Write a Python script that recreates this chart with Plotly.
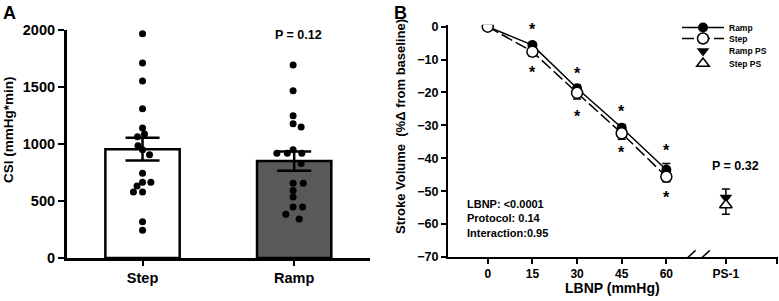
import plotly.graph_objects as go

# ---------------- Panel A data ----------------
groups = ["Step", "Ramp"]
group_pos = [0, 1]
csi_mean = [955, 850]
csi_sem = [100, 85]
step_csi = [1967, 1711, 1553, 1310, 1140, 1088, 1064, 985, 950, 906, 743, 664, 664, 632, 579, 579, 318, 243]
step_jitter = [0, 0, 0, 0, 0, 0.013, -0.033, -0.03, 0, 0.046, 0, 0.055, 0, -0.036, -0.06, 0, 0, 0]
ramp_csi = [1693, 1468, 1248, 1178, 1149, 950, 918, 918, 918, 830, 655, 655, 593, 535, 447, 447, 383, 342]
ramp_jitter = [-0.007, -0.007, -0.007, -0.007, 0.046, -0.007, -0.114, -0.045, 0.05, 0.046, -0.007, 0.06, -0.007, -0.007, -0.007, 0.055, -0.055, 0.033]
p_value_a = "P = 0.12"

# ---------------- Panel B data ----------------
lbnp = [0, 15, 30, 45, 60]
ramp_sv = [0, -5.6, -18.7, -30.7, -43.5]
ramp_sv_err = [0, 0.8, 1.0, 1.0, 1.9]
step_sv = [0, -7.6, -20.1, -32.4, -45.6]
step_sv_err = [0, 1.4, 1.9, 1.8, 1.5]
ps_pos = [80]
ramp_ps = [-51.9]
ramp_ps_err = [2.6]
step_ps = [-54.2]
step_ps_err = [2.8]
sig_x = [15, 30, 45, 60, 15, 30, 45, 60]
sig_y = [0.5, -12.9, -24.5, -36.5, -12.8, -26.1, -37.0, -50.8]
x_tickvals = [0, 15, 30, 45, 60, 80, 97.3]
x_ticktext = ["0", "15", "30", "45", "60", "PS-1", ""]
stats_text = "LBNP: <0.0001<br>Protocol: 0.14<br>Interaction:0.95"
p_value_b = "P = 0.32"

W, H = 779, 301
FONT = "Liberation Sans, Arial, sans-serif"

def px_x(p):
    return p / W

def px_y(p):
    return 1 - p / H

fig = go.Figure()

# Panel A bars
fig.add_trace(go.Bar(
    x=group_pos, y=csi_mean, width=0.49,
    marker=dict(color=["white", "#595959"], line=dict(color="black", width=2.5)),
    error_y=dict(type="data", array=csi_sem, color="black", thickness=2.5, width=17),
    xaxis="x", yaxis="y", showlegend=False,
))
fig.add_trace(go.Scatter(
    x=[group_pos[0] + j for j in step_jitter], y=step_csi, mode="markers",
    marker=dict(color="black", size=7), xaxis="x", yaxis="y", showlegend=False,
))
fig.add_trace(go.Scatter(
    x=[group_pos[1] + j for j in ramp_jitter], y=ramp_csi, mode="markers",
    marker=dict(color="black", size=7), xaxis="x", yaxis="y", showlegend=False,
))

# Panel B lines
fig.add_trace(go.Scatter(
    x=lbnp, y=ramp_sv, mode="lines+markers", name="Ramp", legend="legend",
    line=dict(color="black", width=1.5),
    marker=dict(symbol="circle", size=10, color="black"),
    error_y=dict(type="data", symmetric=False, array=ramp_sv_err, arrayminus=[0] * len(lbnp),
                 color="black", thickness=1.5, width=4),
    xaxis="x2", yaxis="y2",
))
fig.add_trace(go.Scatter(
    x=lbnp, y=step_sv, mode="lines+markers", name="Step", legend="legend2",
    line=dict(color="black", width=1.5, dash="12px,4px"),
    marker=dict(symbol="circle", size=11, color="white", line=dict(color="black", width=1.5)),
    error_y=dict(type="data", symmetric=False, array=[0] * len(lbnp), arrayminus=step_sv_err,
                 color="black", thickness=1.5, width=4),
    xaxis="x2", yaxis="y2",
))
fig.add_trace(go.Scatter(
    x=ps_pos, y=ramp_ps, mode="markers", name="Ramp PS", legend="legend3",
    marker=dict(symbol="triangle-down", size=11, color="black"),
    error_y=dict(type="data", symmetric=False, array=ramp_ps_err, arrayminus=[0],
                 color="black", thickness=1.5, width=4),
    xaxis="x2", yaxis="y2",
))
fig.add_trace(go.Scatter(
    x=ps_pos, y=step_ps, mode="markers", name="Step PS", legend="legend4",
    marker=dict(symbol="triangle-up", size=11, color="white", line=dict(color="black", width=1.5)),
    error_y=dict(type="data", symmetric=False, array=[0], arrayminus=step_ps_err,
                 color="black", thickness=1.5, width=4),
    xaxis="x2", yaxis="y2",
))

# significance asterisks
annotations = []
for sx, sy in zip(sig_x, sig_y):
    annotations.append(dict(x=sx, y=sy, xref="x2", yref="y2", text="*", showarrow=False,
                            xanchor="center", yanchor="middle", font=dict(size=16), yshift=-4))

def label(xp, yp, text, size, **kw):
    d = dict(x=px_x(xp), y=px_y(yp), xref="paper", yref="paper", text=text, showarrow=False,
             xanchor="center", yanchor="middle", font=dict(size=size))
    d.update(kw)
    return d

annotations += [
    label(1, 1, "A", 18, xanchor="left", yanchor="top"),
    label(392, 1, "B", 18, xanchor="left", yanchor="top"),
    label(9, 130, "CSI (mmHg*min)", 13.5, textangle=-90),
    label(400, 127, "Stroke Volume \u00a0(%\u0394 from baseline)", 13, textangle=-90),
    label(612, 288, "LBNP (mmHg)", 14),
    label(298, 35, p_value_a, 12.5),
    label(735, 166, p_value_b, 12.5),
    label(465, 218, stats_text, 11, xanchor="left", align="left"),
]

# axis-break marks
shapes = []
for cx in [67.4, 72.2]:
    shapes.append(dict(type="line", xref="x2", yref="y2", x0=cx - 2.4, x1=cx + 2.4,
                       y0=-72.0, y1=-68.0, line=dict(color="black", width=1.5)))

def leg(yp):
    return dict(x=px_x(677), y=px_y(yp), xanchor="left", yanchor="middle", itemwidth=42,
                font=dict(size=8.5), bgcolor="rgba(0,0,0,0)", borderwidth=0)

fig.update_layout(
    width=W, height=H,
    margin=dict(l=0, r=0, t=0, b=0, autoexpand=False),
    paper_bgcolor="white", plot_bgcolor="white",
    font=dict(family=FONT, color="black", weight="bold"),
    showlegend=True,
    legend=leg(27.5), legend2=leg(38.5), legend3=leg(51), legend4=leg(63.5),
    annotations=annotations,
    shapes=shapes,
    xaxis=dict(domain=[px_x(66.7), px_x(370)], range=[-0.5, 1.5], anchor="y",
               tickvals=group_pos, ticktext=groups, showline=True, linecolor="black", linewidth=2.5,
               ticks="outside", ticklen=5, tickwidth=2, tickcolor="black",
               showgrid=False, zeroline=False, tickfont=dict(size=14.5)),
    yaxis=dict(domain=[px_y(258), px_y(30)], range=[0, 2000], anchor="x",
               tickvals=[0, 500, 1000, 1500, 2000], showline=True, linecolor="black", linewidth=2.5,
               ticks="outside", ticklen=6, tickwidth=2, tickcolor="black",
               showgrid=False, zeroline=False, tickfont=dict(size=14.5)),
    xaxis2=dict(domain=[px_x(447.7), px_x(777.5)], range=[-13.46, 97.34], anchor="y2",
                tickvals=x_tickvals, ticktext=x_ticktext, showline=True, linecolor="black", linewidth=1.5,
                ticks="outside", ticklen=5, tickwidth=1.5, tickcolor="black",
                showgrid=False, zeroline=False, tickfont=dict(size=12)),
    yaxis2=dict(domain=[px_y(257), px_y(24.7)], range=[-70, 0.6], anchor="x2",
                tickvals=[0, -10, -20, -30, -40, -50, -60, -70], showline=True, linecolor="black", linewidth=1.5,
                ticks="outside", ticklen=5, tickwidth=1.5, tickcolor="black",
                showgrid=False, zeroline=False, tickfont=dict(size=12.5)),
)

fig.write_html("out.html", config={"displayModeBar": False},
               post_script="document.body.style.margin='0';document.body.style.overflow='hidden';")
